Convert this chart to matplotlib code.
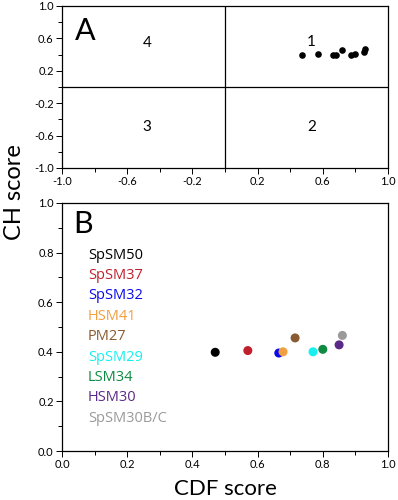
import matplotlib
matplotlib.use("Agg")
import matplotlib.pyplot as plt
from matplotlib.ticker import MultipleLocator, FixedLocator

plt.rcParams['font.family'] = ['Lato', 'DejaVu Sans']

# Dados
names = ['SpSM50', 'SpSM37', 'SpSM32', 'HSM41', 'PM27',
         'SpSM29', 'LSM34', 'HSM30', 'SpSM30B/C']
cdf = [0.47, 0.57, 0.665, 0.678, 0.715, 0.77, 0.80, 0.85, 0.86]
ch = [0.398, 0.405, 0.395, 0.400, 0.456, 0.400, 0.410, 0.428, 0.466]
colors = ['#000000', '#c0202c', '#0a0ae8', '#f0a040', '#8a5a30',
          '#18f0f0', '#108a40', '#5a2a88', '#9a9a9a']
quad_labels = ['1', '2', '3', '4']
quad_x = [0.53, 0.53, -0.48, -0.48]
quad_y = [0.56, -0.49, -0.49, 0.54]

W, H = 398, 500
fig = plt.figure(figsize=(W / 100, H / 100), dpi=100)

def box(l, t, r, b):
    return [l / W, 1 - b / H, (r - l) / W, (b - t) / H]

# Painel A
axA = fig.add_axes(box(62, 6, 388, 168))
axA.scatter(cdf, ch, s=14, color='black', zorder=3)
axA.axhline(0, color='black', lw=0.9)
axA.axvline(0, color='black', lw=0.9)
axA.set_xlim(-1, 1)
axA.set_ylim(-1, 1)
axA.xaxis.set_major_locator(FixedLocator([-1.0, -0.6, -0.2, 0.2, 0.6, 1.0]))
axA.yaxis.set_major_locator(FixedLocator([-1.0, -0.6, -0.2, 0.2, 0.6, 1.0]))
axA.xaxis.set_minor_locator(FixedLocator([-0.8, -0.4, 0.0, 0.4, 0.8]))
axA.yaxis.set_minor_locator(FixedLocator([-0.8, -0.4, 0.0, 0.4, 0.8]))
axA.xaxis.set_major_formatter(lambda v, p: f"{v:.1f}")
axA.yaxis.set_major_formatter(lambda v, p: f"{v:.1f}")
for q, qx, qy in zip(quad_labels, quad_x, quad_y):
    axA.text(qx, qy, q, fontsize=11, ha='center', va='center')
axA.text(0.04, 0.93, 'A', transform=axA.transAxes, fontsize=22,
         ha='left', va='top')

# Painel B
axB = fig.add_axes(box(62, 203, 388, 451))
axB.scatter(cdf, ch, s=30, color=colors, zorder=3)
axB.set_xlim(0, 1)
axB.set_ylim(0, 1)
axB.xaxis.set_major_locator(MultipleLocator(0.2))
axB.yaxis.set_major_locator(MultipleLocator(0.2))
axB.xaxis.set_minor_locator(MultipleLocator(0.1))
axB.yaxis.set_minor_locator(MultipleLocator(0.1))
axB.xaxis.set_major_formatter(lambda v, p: f"{v:.1f}")
axB.yaxis.set_major_formatter(lambda v, p: f"{v:.1f}")
axB.text(0.035, 0.97, 'B', transform=axB.transAxes, fontsize=22,
         ha='left', va='top')
for i, (n, c) in enumerate(zip(names, colors)):
    axB.text(0.08, 0.79 - i * 0.0822, n, color=c, fontsize=10.5,
             ha='left', va='center', family=['Open Sans', 'DejaVu Sans'])
axB.set_xlabel('CDF score', fontsize=16, labelpad=6)

for ax in (axA, axB):
    ax.tick_params(which='both', direction='out', labelsize=8, width=0.7)
    ax.tick_params(which='major', length=4, pad=2)
    ax.tick_params(which='minor', length=3)
    for sp in ax.spines.values():
        sp.set_linewidth(0.9)

fig.text(15 / W, 1 - 192 / H, 'CH score', rotation=90, fontsize=17,
         ha='center', va='center')

fig.savefig('out.png', dpi=100)
